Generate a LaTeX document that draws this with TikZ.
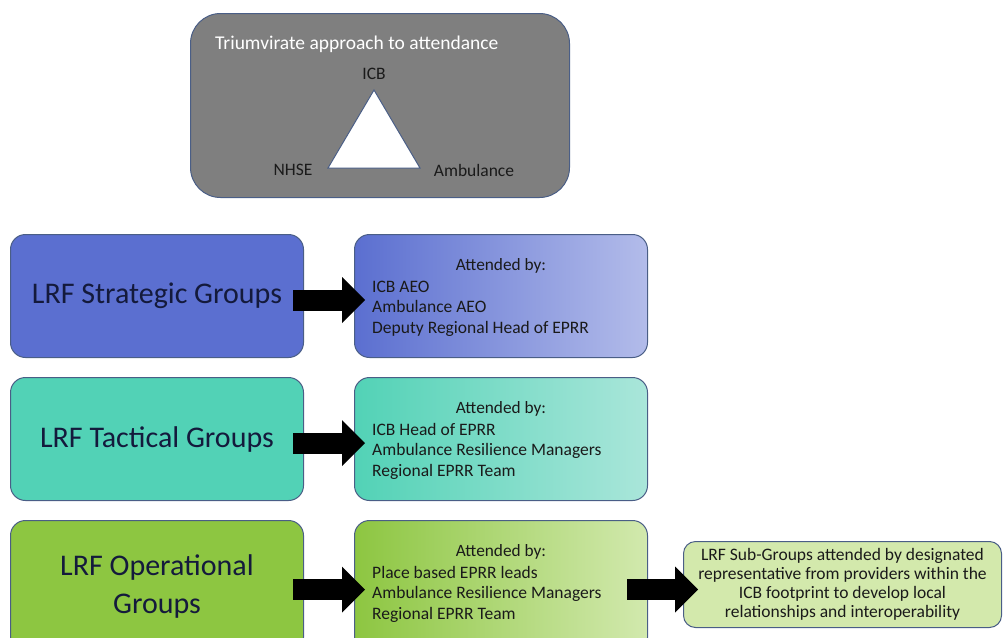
\documentclass[tikz,border=0pt]{standalone}
\usepackage{fontspec}
\setmainfont{Carlito}
\usetikzlibrary{arrows.meta,calc}
\definecolor{edge}{HTML}{4A5E86}
\definecolor{greyfill}{HTML}{7F7F7F}
\definecolor{navy}{HTML}{141A3C}
\definecolor{ink}{HTML}{1A1A1A}
\definecolor{blueA}{HTML}{5B6FD0}
\definecolor{blueB}{HTML}{B3BCEA}
\definecolor{tealA}{HTML}{52D2B6}
\definecolor{tealB}{HTML}{AAE6DA}
\definecolor{greenA}{HTML}{8DC641}
\definecolor{greenB}{HTML}{D2E9AE}
\definecolor{subfill}{HTML}{D3E9AC}
\tikzset{
  groupbox/.style={draw=edge, line width=1pt, rounded corners=15pt, anchor=north west,
    minimum width=293pt, minimum height=123pt, inner sep=0pt, align=center,
    text=navy, font=\fontsize{30}{38}\selectfont},
  attbox/.style={draw=edge, line width=1pt, rounded corners=15pt, anchor=north west,
    minimum width=293pt, minimum height=123pt, inner sep=0pt},
  atthead/.style={anchor=base, inner sep=0pt, text=ink, font=\fontsize{17.3}{20.5}\selectfont},
  attlist/.style={anchor=base west, inner sep=0pt, text=ink, font=\fontsize{17.5}{20.5}\selectfont},
  blockarrow/.style={line width=21pt, draw=black, -{Triangle[width=46pt,length=23pt,line width=0pt]}},
  triglabel/.style={inner sep=0pt, text=ink, font=\fontsize{17.5}{21}\selectfont},
}
\begin{document}
\begin{tikzpicture}[x=1pt,y=-1pt]
\useasboundingbox (0,0) rectangle (1006,637);
\clip (0,0) rectangle (1006,637);

% Triumvirate box
\node[draw=edge, line width=1pt, fill=greyfill, rounded corners=30pt, anchor=north west,
  minimum width=379pt, minimum height=184pt, inner sep=0pt] (tri) at (190,13) {};
\node[anchor=base west, inner sep=0pt, text=white, font=\fontsize{19.5}{23}\selectfont]
  (trititle) at (215,49) {Triumvirate approach to attendance};
\draw[draw=edge, line width=1pt, fill=white, line join=miter] (374,90) -- (420,168) -- (328,168) -- cycle;
\node[triglabel] (icb) at (374,74) {ICB};
\node[triglabel] (nhse) at (293,170) {NHSE};
\node[triglabel] (amb) at (474,170) {Ambulance};

% Strategic row
\node[groupbox, fill=blueA] (s1) at (10,234) {LRF Strategic Groups};
\node[attbox, left color=blueA, right color=blueB] (s2) at (354,234) {};
\node[atthead] (s2h) at ([yshift=-36pt]s2.north) {Attended by:};
\node[attlist] (s2l) at ([xshift=18pt,yshift=-58pt]s2.north west)
  {\begin{tabular}[t]{@{}l@{}}ICB AEO\\Ambulance AEO\\Deputy Regional Head of EPRR\end{tabular}};
\draw[blockarrow] ([xshift=-11pt,yshift=-4pt]s1.east) -- ([xshift=11pt,yshift=-4pt]s2.west);

% Tactical row
\node[groupbox, fill=tealA] (t1) at (10,377) {LRF Tactical Groups};
\node[attbox, left color=tealA, right color=tealB] (t2) at (354,377) {};
\node[atthead] (t2h) at ([yshift=-36pt]t2.north) {Attended by:};
\node[attlist] (t2l) at ([xshift=18pt,yshift=-58pt]t2.north west)
  {\begin{tabular}[t]{@{}l@{}}ICB Head of EPRR\\Ambulance Resilience Managers\\Regional EPRR Team\end{tabular}};
\draw[blockarrow] ([xshift=-11pt,yshift=-4pt]t1.east) -- ([xshift=11pt,yshift=-4pt]t2.west);

% Operational row
\node[groupbox, fill=greenA, minimum height=132pt] (o1) at (10,520) {LRF Operational\\Groups};
\node[attbox, left color=greenA, right color=greenB, minimum height=132pt] (o2) at (354,520) {};
\node[atthead] (o2h) at ([yshift=-36pt]o2.north) {Attended by:};
\node[attlist] (o2l) at ([xshift=18pt,yshift=-58pt]o2.north west)
  {\begin{tabular}[t]{@{}l@{}}Place based EPRR leads\\Ambulance Resilience Managers\\Regional EPRR Team\end{tabular}};
\draw[blockarrow] ([xshift=-11pt,yshift=-3pt]o1.east) -- ([xshift=11pt,yshift=-3pt]o2.west);

\node[draw=edge, line width=1pt, fill=subfill, rounded corners=12pt, anchor=north west,
  minimum width=318pt, minimum height=86pt, inner sep=0pt, align=center, text=ink,
  font=\fontsize{17.5}{19}\selectfont] (o3) at (683,541)
  {LRF Sub-Groups attended by designated\\representative from providers within the\\ICB footprint to develop local\\relationships and interoperability};
\draw[blockarrow] ($(o2.east |- o3.west)+(-21,5)$) -- ($(o3.west)+(15,5)$);
\end{tikzpicture}
\end{document}
